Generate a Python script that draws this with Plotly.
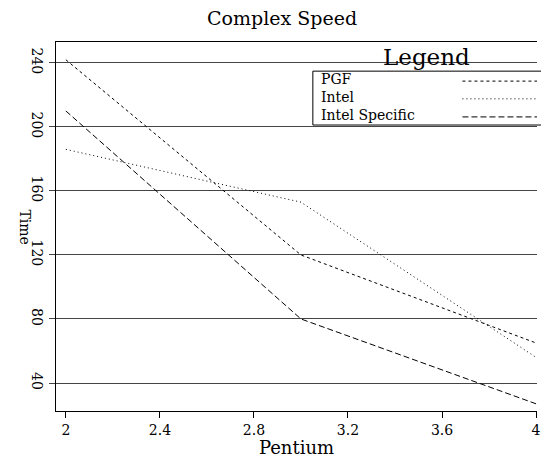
import plotly.graph_objects as go

x_vals = [2.0, 3.0, 4.0]
pgf = [242, 120, 65]
intel = [186, 153, 56]
intel_specific = [210, 80, 27]
series_names = ["PGF", "Intel", "Intel Specific"]
x_ticks = [2.0, 2.4, 2.8, 3.2, 3.6, 4.0]
x_ticklabels = ["2", "2.4", "2.8", "3.2", "3.6", "4"]
y_ticks = [40, 80, 120, 160, 200, 240]

FONT = "DejaVu Serif"
dashes = ["3px,3px", "1px,3px", "6px,3px"]

fig = go.Figure()
for name, ys, d in zip(series_names, [pgf, intel, intel_specific], dashes):
    fig.add_trace(go.Scatter(x=x_vals, y=ys, mode="lines", name=name,
                             line=dict(color="black", width=1, dash=d),
                             showlegend=False))

fig.update_layout(
    width=541, height=458,
    margin=dict(l=56, r=0, t=42, b=47),
    paper_bgcolor="white", plot_bgcolor="white",
    font=dict(family=FONT, color="black", size=14),
    xaxis=dict(range=[1.958, 4.004], tickvals=x_ticks, ticktext=x_ticklabels,
               showgrid=False, zeroline=False, showline=True, mirror=True,
               linecolor="black", linewidth=1, ticks="outside", ticklen=6,
               tickcolor="black", tickfont=dict(size=14, family=FONT),
               ticklabeloverflow="allow",
               title=dict(text="Pentium", font=dict(size=18, family=FONT), standoff=0)),
    yaxis=dict(range=[22.5, 253.1], tickvals=y_ticks, tickangle=90,
               showgrid=True, gridcolor="#444", gridwidth=1, zeroline=False,
               showline=True, mirror=False, linecolor="black", linewidth=1,
               ticks="outside", ticklen=6, tickcolor="#444",
               tickfont=dict(size=14, family=FONT)),
)

# Title
fig.add_annotation(text="Complex Speed", xref="paper", yref="paper",
                   x=0.47, y=1.0, yshift=24, yanchor="middle", showarrow=False,
                   font=dict(size=19, family=FONT))
# Y-axis title (rotated clockwise)
fig.add_annotation(text="Time", xref="paper", yref="paper",
                   x=0, xshift=-41, y=0.5, textangle=90, showarrow=False,
                   font=dict(size=14, family=FONT))

# Custom legend
fig.add_annotation(text="Legend", xref="paper", yref="paper",
                   x=0.77, y=0.959, showarrow=False, xanchor="center", yanchor="middle",
                   font=dict(size=23, family=FONT))
fig.add_shape(type="rect", xref="paper", yref="paper",
              x0=0.534, x1=1.01, y0=0.775, y1=0.921,
              line=dict(color="black", width=1), fillcolor="white", layer="above")
fig.add_annotation(text="<br>".join(series_names), xref="paper", yref="paper",
                   x=0.546, y=0.851, xanchor="left", yanchor="middle", align="left",
                   showarrow=False, font=dict(size=14, family=FONT))
line_y = [0.894, 0.846, 0.797]
for d, lly in zip(dashes, line_y):
    fig.add_shape(type="line", xref="paper", yref="paper", x0=0.845, x1=1.0,
                  y0=lly, y1=lly, line=dict(color="black", width=1, dash=d), layer="above")

fig.write_html("out.html")
